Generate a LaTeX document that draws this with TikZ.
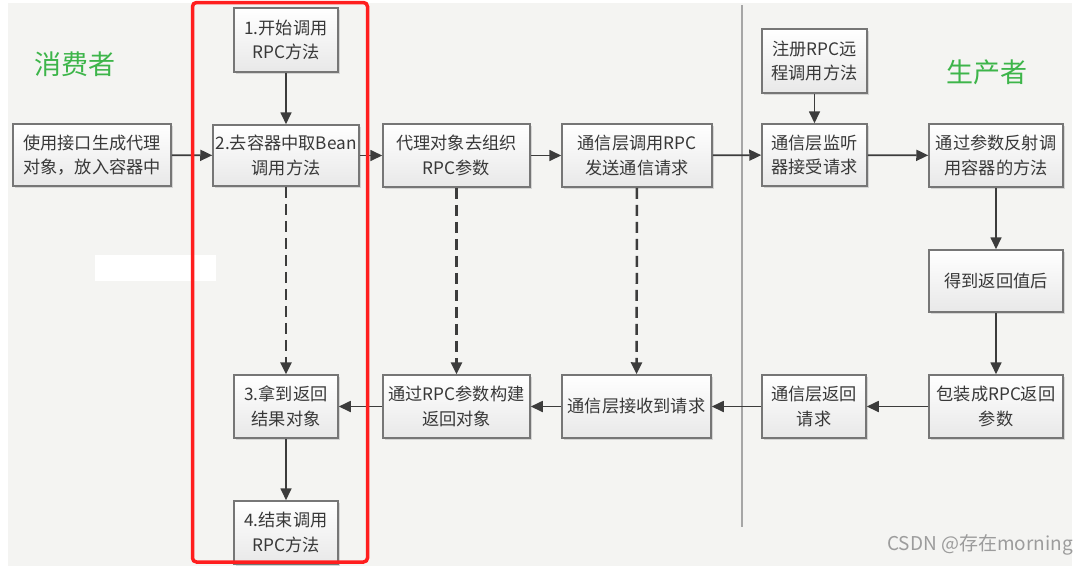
\documentclass[tikz,border=0pt]{standalone}
\usepackage{fontspec}
\setmainfont{Noto Sans CJK SC}
\usetikzlibrary{arrows.meta,shadows}
\definecolor{bgc}{HTML}{F4F4F2}
\definecolor{txt}{HTML}{383838}
\definecolor{bord}{HTML}{767676}
\definecolor{arr}{HTML}{3C3C3C}
\definecolor{grn}{HTML}{3DB54A}
\definecolor{redc}{HTML}{FF1E1E}
\definecolor{wm}{HTML}{9C9C9C}
\begin{document}
\begin{tikzpicture}[x=1pt,y=-1pt,
  box/.style={draw=bord,line width=1.5pt,top color=white,bottom color=black!9,
    text=txt,align=center,inner sep=0pt,
    font=\fontsize{17.2}{24.5}\selectfont,
    drop shadow={shadow xshift=2pt,shadow yshift=-2pt,fill=black!25,opacity=0.6}},
  flow/.style={draw=arr,line width=1.7pt,-{Triangle[length=12pt,width=11pt]}},
  dflow/.style={flow,line width=2.5pt,dash pattern=on 11pt off 6pt},
  lbl/.style={text=grn,font=\fontsize{27}{30}\selectfont}]
\useasboundingbox (0,0) rectangle (1088,566);
\fill[bgc] (8,3) rectangle (1072,566);
% divider
\draw[black!35,line width=1.4pt] (742,5) -- (742,527);
% labels
\node[lbl] (cons) at (75,64) {消费者};
\node[lbl] (prod) at (987,72) {生产者};
% boxes
\node[box,minimum width=158pt,minimum height=62pt] (A) at (92,155) {使用接口生成代理\\对象，放入容器中};
\node[box,minimum width=104pt,minimum height=64pt] (b1) at (286,40) {1.开始调用\\RPC方法};
\node[box,minimum width=146pt,minimum height=61pt] (b2) at (286,155.5) {2.去容器中取Bean\\调用方法};
\node[box,minimum width=147pt,minimum height=63pt] (b3) at (456.5,155.5) {代理对象去组织\\RPC参数};
\node[box,minimum width=150pt,minimum height=63pt] (b4) at (637,155.5) {通信层调用RPC\\发送通信请求};
\node[box,minimum width=105pt,minimum height=64pt] (b5) at (814.5,61) {注册RPC远\\程调用方法};
\node[box,minimum width=105pt,minimum height=62pt] (b6) at (814.5,155) {通信层监听\\器接受请求};
\node[box,minimum width=134pt,minimum height=63pt] (b7) at (996,155.5) {通过参数反射调\\用容器的方法};
\node[box,minimum width=134pt,minimum height=62pt] (b8) at (996,281) {得到返回值后};
\node[box,minimum width=134pt,minimum height=63pt] (b9) at (996,406.5) {包装成RPC返回\\参数};
\node[box,minimum width=104pt,minimum height=63pt] (b10) at (814,406.5) {通信层返回\\请求};
\node[box,minimum width=149pt,minimum height=63pt] (b11) at (636.5,406.5) {通信层接收到请求};
\node[box,minimum width=147pt,minimum height=63pt] (b12) at (456.5,406.5) {通过RPC参数构建\\返回对象};
\node[box,minimum width=104pt,minimum height=63pt] (b13) at (286,406.5) {3.拿到返回\\结果对象};
\node[box,minimum width=104pt,minimum height=63pt] (b14) at (286,532.5) {4.结束调用\\RPC方法};
% arrows
\draw[flow] (A) -- (b2);
\draw[flow] (b1) -- (b2);
\draw[flow] (b2) -- (b3);
\draw[flow] (b3) -- (b4);
\draw[flow] (b4) -- (b6);
\draw[flow] (b5) -- (b6);
\draw[flow] (b6) -- (b7);
\draw[flow] (b7) -- (b8);
\draw[flow] (b8) -- (b9);
\draw[flow] (b9) -- (b10);
\draw[flow] (b10) -- (b11);
\draw[flow] (b11) -- (b12);
\draw[flow] (b12) -- (b13);
\draw[flow] (b13) -- (b14);
\draw[dflow] (b2) -- (b13);
\draw[dflow] (b3) -- (b12);
\draw[dflow] (b4) -- (b11);
% white patch
\fill[white] (95,255) rectangle (216,281);
% red frame
\draw[redc,line width=3.5pt,rounded corners=4pt] (192.5,2.5) rectangle (367.5,562);
% watermark
\node[text=wm,font=\fontsize{19}{21}\selectfont,anchor=east,inner sep=0pt] (wmk) at (1073,545) {CSDN @存在morning};
\end{tikzpicture}
\end{document}
